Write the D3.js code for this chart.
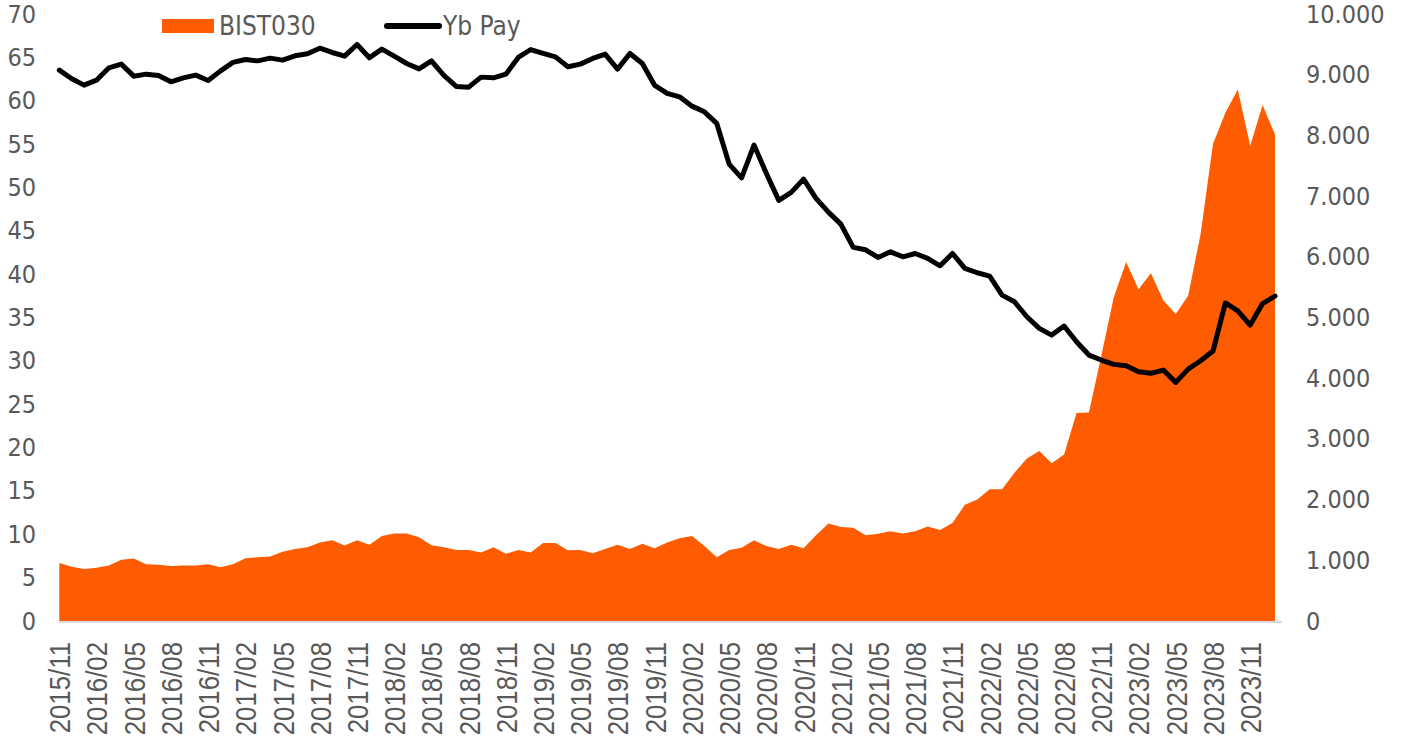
<!DOCTYPE html>
<html>
<head>
<meta charset="utf-8">
<script src="https://cdn.jsdelivr.net/npm/d3@7"></script>
<style>
  html, body { margin: 0; padding: 0; background: #ffffff; }
  svg { display: block; }
</style>
</head>
<body>
<svg id="chart" width="1403" height="744"></svg>
<script>
// ---- data ----
const startMonth = "2015-11";
const seriesNames = ["BIST030", "Yb Pay"];
const bist030 = [
  6.7, 6.25, 6.0, 6.15, 6.4, 7.05, 7.2, 6.55, 6.5, 6.35,
  6.4, 6.4, 6.55, 6.2, 6.55, 7.25, 7.35, 7.45, 8.0, 8.3,
  8.5, 9.05, 9.3, 8.7, 9.3, 8.8, 9.8, 10.1, 10.1, 9.65,
  8.75, 8.5, 8.2, 8.2, 7.9, 8.5, 7.75, 8.2, 7.9, 9.0,
  9.0, 8.15, 8.2, 7.8, 8.3, 8.8, 8.3, 8.9, 8.4, 9.05,
  9.55, 9.8, 8.65, 7.35, 8.2, 8.45, 9.3, 8.65, 8.3, 8.8,
  8.4, 9.9, 11.25, 10.85, 10.75, 9.9, 10.05, 10.35, 10.1, 10.35,
  10.9, 10.5, 11.3, 13.4, 14.0, 15.2, 15.2, 17.1, 18.75, 19.6,
  18.2, 19.2, 24.0, 24.05, 30.6, 37.3, 41.4, 38.25, 40.1, 36.95,
  35.4, 37.5, 44.6, 55.0, 58.6, 61.3, 54.8, 59.5, 56.1
];
const ybPay = [
  9076, 8933, 8828, 8910, 9113, 9174, 8976, 9009, 8988, 8883,
  8948, 8993, 8905, 9063, 9202, 9251, 9228, 9273, 9240, 9311,
  9344, 9437, 9366, 9305, 9498, 9278, 9421, 9305, 9185, 9096,
  9228, 8988, 8806, 8795, 8960, 8948, 9009, 9284, 9415, 9350,
  9294, 9130, 9174, 9268, 9339, 9092, 9350, 9185, 8823, 8691,
  8636, 8482, 8388, 8197, 7527, 7301, 7840, 7374, 6929, 7061,
  7280, 6962, 6736, 6539, 6155, 6115, 5990, 6082, 6000, 6055,
  5974, 5852, 6055, 5809, 5737, 5682, 5369, 5259, 5012, 4821,
  4710, 4859, 4600, 4381, 4299, 4228, 4205, 4106, 4080, 4134,
  3931, 4150, 4287, 4447, 5240, 5110, 4875, 5230, 5353
];
const xTickLabels = [
  "2015/11","2016/02","2016/05","2016/08","2016/11","2017/02","2017/05","2017/08",
  "2017/11","2018/02","2018/05","2018/08","2018/11","2019/02","2019/05","2019/08",
  "2019/11","2020/02","2020/05","2020/08","2020/11","2021/02","2021/05","2021/08",
  "2021/11","2022/02","2022/05","2022/08","2022/11","2023/02","2023/05","2023/08","2023/11"
];
const leftTicks = [0,5,10,15,20,25,30,35,40,45,50,55,60,65,70];
const rightTicks = [0,1000,2000,3000,4000,5000,6000,7000,8000,9000,10000];

// ---- categories (months) ----
const fmtMonth = d3.utcFormat("%Y/%m");
const parse = d3.utcParse("%Y-%m");
const t0 = parse(startMonth);
const months = d3.range(bist030.length).map(i => fmtMonth(d3.utcMonth.offset(t0, i)));

// ---- layout ----
const orange = "#ff5b00";
const textGray = "#595959";
const svg = d3.select("#chart");
const x = d3.scalePoint().domain(months).range([59.3, 1275]);
const yL = d3.scaleLinear().domain([0, 70]).range([621, 14]);
const yR = d3.scaleLinear().domain([0, 10000]).range([621, 14]);
const locale = d3.formatLocale({decimal: ",", thousands: ".", grouping: [3], currency: ["", ""]});
const fmtR = locale.format(",.0f");

const rows = months.map((m, i) => ({m, b: bist030[i], y: ybPay[i]}));

// area
svg.append("path")
  .datum(rows)
  .attr("fill", orange)
  .attr("d", d3.area().x(d => x(d.m)).y0(yL(0)).y1(d => yL(d.b)));

// x axis line
svg.append("line")
  .attr("x1", x(months[0])).attr("x2", x(months[months.length - 1]) + 7)
  .attr("y1", yL(0) + 1).attr("y2", yL(0) + 1)
  .attr("stroke", "#d9d9d9").attr("stroke-width", 2);

// line
svg.append("path")
  .datum(rows)
  .attr("fill", "none")
  .attr("stroke", "#000")
  .attr("stroke-width", 5)
  .attr("stroke-linejoin", "round")
  .attr("stroke-linecap", "round")
  .attr("d", d3.line().x(d => x(d.m)).y(d => yR(d.y)));

// left axis
const axL = d3.axisLeft(yL).tickValues(leftTicks).tickSize(0).tickPadding(0).tickFormat(d3.format("d"));
const gL = svg.append("g").attr("transform", "translate(36,0)").call(axL);
gL.select(".domain").remove();
gL.selectAll("text")
  .attr("fill", textGray)
  .style("font-family", "'DejaVu Sans Condensed', 'DejaVu Sans', sans-serif")
  .style("font-size", "25px");

// right axis
const axR = d3.axisRight(yR).tickValues(rightTicks).tickSize(0).tickPadding(0).tickFormat(fmtR);
const gR = svg.append("g").attr("transform", "translate(1306,0)").call(axR);
gR.select(".domain").remove();
gR.selectAll("text")
  .attr("fill", textGray)
  .style("font-family", "'DejaVu Sans Condensed', 'DejaVu Sans', sans-serif")
  .style("font-size", "25px");

// bottom axis (labels every 3 months)
const axB = d3.axisBottom(x).tickValues(xTickLabels).tickSize(0).tickPadding(0);
const gB = svg.append("g").attr("transform", "translate(0,642)").call(axB);
gB.select(".domain").remove();
gB.selectAll("text")
  .attr("fill", textGray)
  .attr("text-anchor", "end")
  .attr("x", 0).attr("y", 0).attr("dy", "0.36em")
  .attr("transform", "rotate(-90) scale(0.89,1)")
  .style("font-family", "'Liberation Sans', Arial, sans-serif")
  .style("font-size", "29px");

// legend
const lg = svg.append("g").style("font-family", "'DejaVu Sans Condensed', 'DejaVu Sans', sans-serif")
  .style("font-size", "26px");
lg.append("rect").attr("x", 162).attr("y", 19).attr("width", 52).attr("height", 14).attr("fill", orange);
lg.append("text").attr("x", 219).attr("y", 35).attr("fill", textGray).text(seriesNames[0]);
lg.append("line").attr("x1", 387).attr("x2", 439).attr("y1", 26).attr("y2", 26)
  .attr("stroke", "#000").attr("stroke-width", 6).attr("stroke-linecap", "round");
lg.append("text").attr("x", 443).attr("y", 35).attr("fill", textGray).text(seriesNames[1]);
</script>
</body>
</html>
